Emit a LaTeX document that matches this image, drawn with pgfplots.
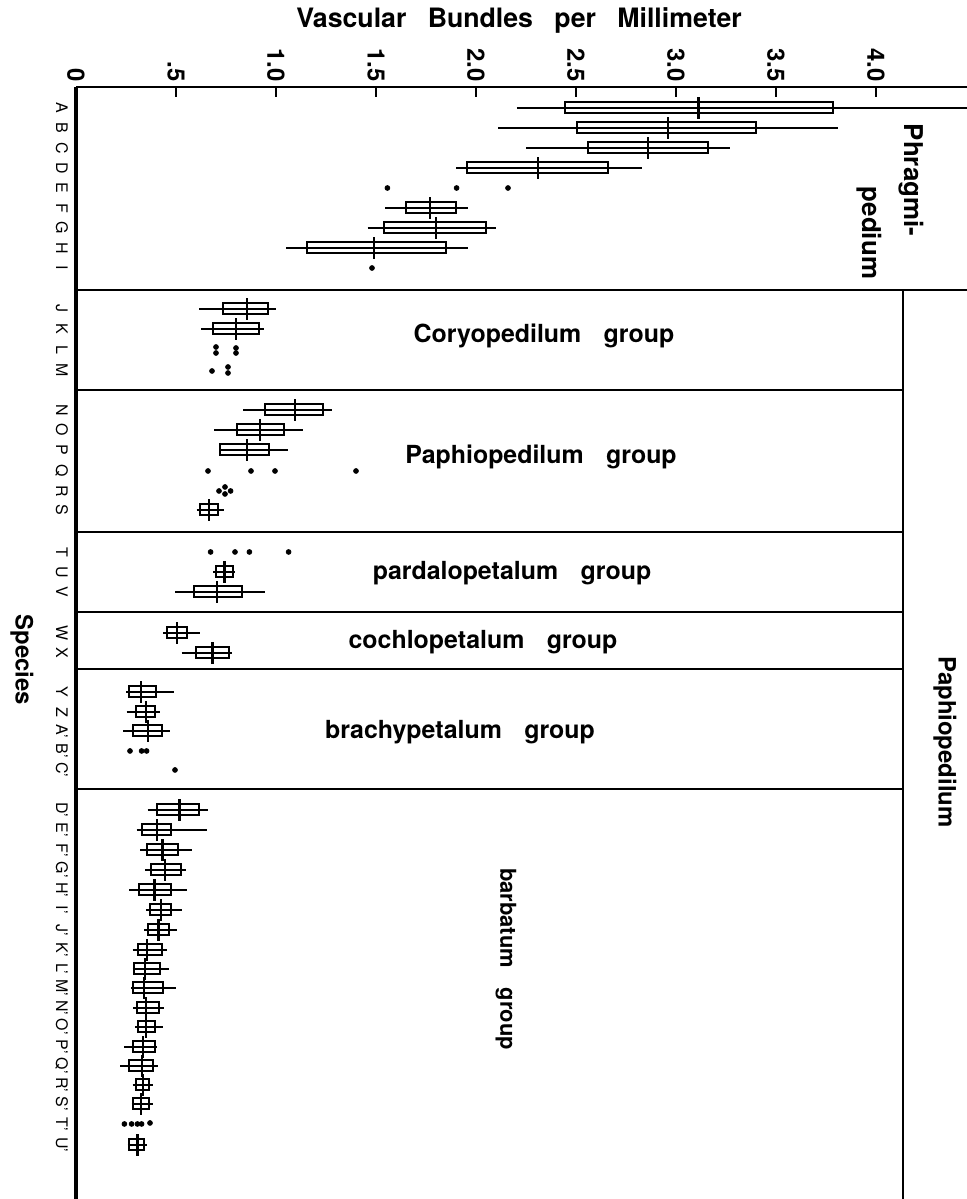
\documentclass[border=0pt]{standalone}
\usepackage{pgfplots}
\pgfplotsset{compat=1.18}
\usepgfplotslibrary{statistics}
\usepackage{fontspec}
\setmainfont{TeX Gyre Heros}
\newcommand{\bx}[6]{\addplot[black, line width=1bp, boxplot prepared={draw position=#1, lower whisker=#2, lower quartile=#3, median=#4, upper quartile=#5, upper whisker=#6}] coordinates {};}
\begin{document}
\begin{tikzpicture}
\useasboundingbox (0,0) rectangle (483.5bp,599.5bp);
\begin{axis}[
  at={(38bp,556bp)}, anchor=north west,
  x=100bp, y=0.5bp,
  xmin=0, xmax=4.455, ymin=-1199, ymax=-87,
  axis x line*=top, axis y line*=left,
  x axis line style={line width=1.4bp},
  y axis line style={line width=1.7bp},
  xtick={0,0.5,1,1.5,2,2.5,3,3.5,4},
  xticklabels={0,.5,1.0,1.5,2.0,2.5,3.0,3.5,4.0},
  xticklabel style={rotate=-90, anchor=east, inner sep=2.5bp, font=\fontsize{12}{12}\selectfont\bfseries},
  tick align=inside, major tick length=5bp,
  xtick style={line width=0.9bp, black},
  ytick={-108,-128,-148,-168,-188,-208,-228,-248,-268,-309,-329,-350,-370,-410,-430,-450,-471,-491,-510,-552,-572,-592,-633,-653,-692,-712,-731,-751,-770,-810,-830,-850,-870,-890,-910,-930,-950,-969,-988,-1008,-1027,-1047,-1066,-1085,-1104,-1124,-1145},
  yticklabels={A,B,C,D,E,F,G,H,I,J,K,L,M,N,O,P,Q,R,S,T,U,V,W,X,Y,Z,A',B',C',D',E',F',G',H',I',J',K',L',M',N',O',P',Q',R',S',T',U'},
  yticklabel style={rotate=-90, anchor=north, inner xsep=0pt, inner ysep=4.2bp, text height=5.6bp, text depth=0pt, font=\fontsize{8}{8}\selectfont},
  ytick style={draw=none},
  boxplot/draw direction=x,
  boxplot/box extend=11,
  boxplot/whisker extend=0,
  boxplot/every box/.style={draw=black, line width=1bp},
  boxplot/draw/lower whisker/.code={\draw[line width=0.85bp] (boxplot box cs:\pgfplotsboxplotvalue{lower whisker},0.5) -- (boxplot box cs:\pgfplotsboxplotvalue{upper whisker},0.5);},
  boxplot/draw/upper whisker/.code={},
  boxplot/draw/median/.code={\draw[line width=1.1bp] (boxplot box cs:\pgfplotsboxplotvalue{median},-0.5) -- (boxplot box cs:\pgfplotsboxplotvalue{median},1.5);},
]
% Phragmipedium
\bx{-108}{2.204}{2.443}{3.112}{3.787}{4.6}
\bx{-128}{2.11}{2.506}{2.958}{3.40}{3.81}
\bx{-148}{2.25}{2.56}{2.86}{3.16}{3.27}
\bx{-168}{1.90}{1.953}{2.31}{2.66}{2.83}
\bx{-208}{1.545}{1.65}{1.77}{1.898}{1.958}
\bx{-228}{1.458}{1.54}{1.80}{2.05}{2.10}
\bx{-248}{1.05}{1.153}{1.49}{1.85}{1.96}
% Coryopedilum
\bx{-309}{0.617}{0.733}{0.853}{0.962}{1.00}
\bx{-329}{0.625}{0.683}{0.80}{0.917}{0.94}
% Paphiopedilum group
\bx{-410}{0.837}{0.945}{1.095}{1.233}{1.278}
\bx{-430}{0.69}{0.807}{0.92}{1.04}{1.137}
\bx{-450}{0.715}{0.72}{0.853}{0.967}{1.062}
\bx{-510}{0.603}{0.62}{0.665}{0.712}{0.74}
% pardalopetalum
\bx{-572}{0.687}{0.70}{0.742}{0.783}{0.795}
\bx{-592}{0.495}{0.59}{0.703}{0.828}{0.947}
% cochlopetalum
\bx{-633}{0.437}{0.453}{0.503}{0.557}{0.62}
\bx{-653}{0.528}{0.598}{0.682}{0.767}{0.782}
% brachypetalum
\bx{-692}{0.25}{0.265}{0.325}{0.40}{0.49}
\bx{-712}{0.253}{0.30}{0.348}{0.397}{0.42}
\bx{-731}{0.237}{0.283}{0.358}{0.432}{0.47}
% barbatum
\bx{-810}{0.358}{0.407}{0.517}{0.613}{0.662}
\bx{-830}{0.303}{0.332}{0.403}{0.475}{0.653}
\bx{-850}{0.32}{0.357}{0.432}{0.508}{0.58}
\bx{-870}{0.345}{0.373}{0.445}{0.525}{0.55}
\bx{-890}{0.267}{0.317}{0.392}{0.473}{0.555}
\bx{-910}{0.35}{0.37}{0.423}{0.475}{0.532}
\bx{-930}{0.34}{0.362}{0.412}{0.463}{0.503}
\bx{-950}{0.283}{0.308}{0.353}{0.428}{0.457}
\bx{-969}{0.283}{0.29}{0.345}{0.42}{0.467}
\bx{-988}{0.275}{0.283}{0.34}{0.437}{0.50}
\bx{-1008}{0.287}{0.307}{0.348}{0.413}{0.442}
\bx{-1027}{0.295}{0.312}{0.348}{0.395}{0.437}
\bx{-1047}{0.242}{0.283}{0.333}{0.397}{0.403}
\bx{-1066}{0.222}{0.263}{0.328}{0.387}{0.41}
\bx{-1085}{0.283}{0.30}{0.333}{0.363}{0.383}
\bx{-1104}{0.278}{0.287}{0.325}{0.363}{0.383}
\bx{-1145}{0.258}{0.267}{0.307}{0.342}{0.353}
% individual points
\addplot[only marks, mark=*, mark size=1.2bp, black] coordinates {
(1.557,-188) (1.903,-188) (2.16,-188)
(1.48,-268)
(0.70,-347) (0.70,-353) (0.80,-348) (0.80,-353)
(0.68,-371) (0.76,-367) (0.76,-373)
(0.66,-471) (0.875,-471) (0.995,-471) (1.40,-471)
(0.715,-491) (0.745,-487) (0.745,-494) (0.773,-491)
(0.673,-552) (0.795,-552) (0.867,-552) (1.063,-552)
(0.27,-751) (0.328,-751) (0.353,-751)
(0.495,-770)
(0.242,-1124) (0.278,-1124) (0.307,-1124) (0.328,-1124) (0.37,-1123)
};
% section lines
\draw[line width=0.9bp] (axis cs:0,-290) -- (axis cs:4.455,-290);
\draw[line width=0.9bp] (axis cs:0,-390) -- (axis cs:4.135,-390);
\draw[line width=0.9bp] (axis cs:0,-532) -- (axis cs:4.135,-532);
\draw[line width=0.9bp] (axis cs:0,-612) -- (axis cs:4.135,-612);
\draw[line width=0.9bp] (axis cs:0,-669) -- (axis cs:4.135,-669);
\draw[line width=0.9bp] (axis cs:0,-789) -- (axis cs:4.135,-789);
\draw[line width=0.9bp] (axis cs:4.135,-290) -- (axis cs:4.135,-1199);
% labels
\node[font=\fontsize{12.5}{12.5}\selectfont\bfseries, inner sep=0pt] at (axis cs:2.34,-336) {Coryopedilum\hspace{0.9em}group};
\node[font=\fontsize{12.5}{12.5}\selectfont\bfseries, inner sep=0pt] at (axis cs:2.325,-457) {Paphiopedilum\hspace{0.9em}group};
\node[font=\fontsize{12.5}{12.5}\selectfont\bfseries, inner sep=0pt] at (axis cs:2.18,-573) {pardalopetalum\hspace{0.9em}group};
\node[font=\fontsize{12.5}{12.5}\selectfont\bfseries, inner sep=0pt] at (axis cs:2.035,-642) {cochlopetalum\hspace{0.9em}group};
\node[font=\fontsize{12.5}{12.5}\selectfont\bfseries, inner sep=0pt] at (axis cs:1.92,-732) {brachypetalum\hspace{0.9em}group};
\node[rotate=-90, inner sep=0pt, font=\fontsize{11}{11}\selectfont\bfseries] at (axis cs:2.15,-959) {barbatum\hspace{0.9em}group};
\node[rotate=-90, inner sep=0pt, font=\fontsize{13}{13}\selectfont\bfseries] at (axis cs:4.175,-180) {Phragmi-};
\node[rotate=-90, inner sep=0pt, font=\fontsize{13}{13}\selectfont\bfseries] at (axis cs:3.965,-233) {pedium};
\node[rotate=-90, inner sep=0pt, font=\fontsize{12}{12}\selectfont\bfseries] at (axis cs:4.345,-742) {Paphiopedilum};
\end{axis}
\node[font=\fontsize{13.4}{13.4}\selectfont\bfseries] at (259.5bp,589.5bp) {Vascular\hspace{0.8em}Bundles\hspace{0.8em}per\hspace{0.8em}Millimeter};
\node[rotate=-90, font=\fontsize{12}{12}\selectfont\bfseries] at (11bp,269.5bp) {Species};
\end{tikzpicture}
\end{document}
